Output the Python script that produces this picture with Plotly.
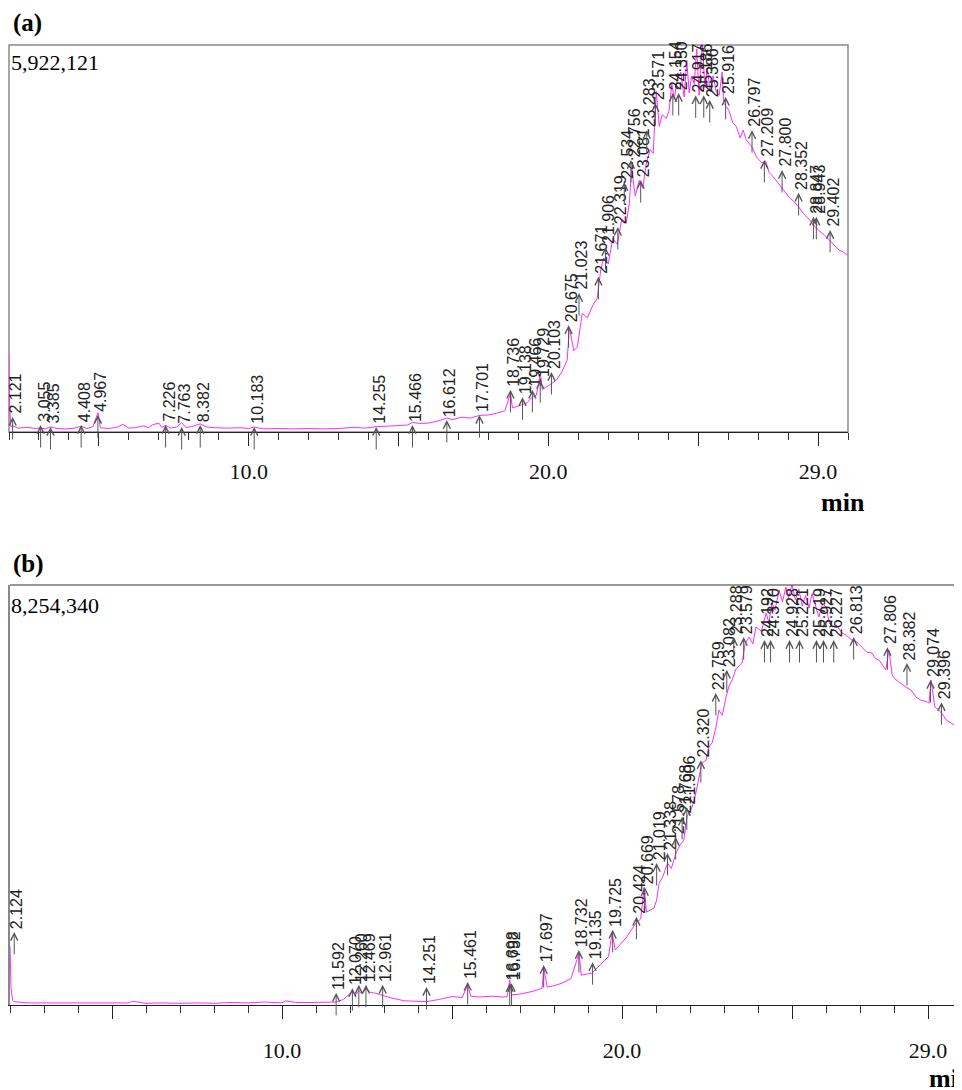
import plotly.graph_objects as go

# ---------------- data ----------------
# Panel (a): retention time (min) and intensity (% of full scale 5,922,121)
time_a = [2.00, 2.02, 2.06, 2.12, 2.3, 2.6, 2.9, 3.05, 3.2, 3.38,
          3.6, 3.9, 4.2, 4.41, 4.6, 4.8, 4.97, 5.05, 5.3, 5.6,
          5.8, 6.0, 6.2, 6.5, 6.65, 6.8, 7.0, 7.1, 7.23, 7.4,
          7.6, 7.76, 7.9, 8.1, 8.38, 8.6, 8.9, 9.3, 9.7, 10.0,
          10.18, 10.5, 11.0, 11.5, 12.0, 12.5, 13.0, 13.5, 13.9, 14.26,
          14.6, 15.0, 15.3, 15.47, 15.7, 16.0, 16.3, 16.61, 16.8, 17.1,
          17.4, 17.7, 18.0, 18.3, 18.55, 18.74, 18.8, 19.1, 19.3, 19.43,
          19.6, 19.73, 19.8, 20.03, 20.27, 20.45, 20.63, 20.7, 20.85, 20.97,
          21.13, 21.3, 21.5, 21.63, 21.75, 21.85, 22.0, 22.15, 22.3, 22.45,
          22.6, 22.7, 22.78, 22.9, 23.03, 23.15, 23.27, 23.4, 23.5, 23.6,
          23.7, 23.8, 23.93, 24.03, 24.12, 24.2, 24.3, 24.42, 24.53, 24.62,
          24.7, 24.78, 24.87, 24.95, 25.03, 25.1, 25.15, 25.22, 25.3, 25.4,
          25.5, 25.6, 25.7, 25.8, 25.85, 25.95, 26.03, 26.15, 26.27, 26.4,
          26.5, 26.6, 26.8, 26.95, 27.13, 27.25, 27.37, 27.5, 27.7, 27.85,
          28.03, 28.2, 28.37, 28.5, 28.7, 28.85, 29.03, 29.2, 29.37, 29.5,
          29.7, 29.85, 29.97]
intensity_a = [20, 7, 1.4, 1.6, 1.0, 1.2, 0.9, 1.1, 0.8, 1.3,
               0.9, 0.8, 1.0, 1.5, 0.9, 1.4, 5.0, 1.1, 0.9, 1.2,
               2.0, 1.0, 1.1, 1.6, 1.1, 1.9, 2.3, 1.2, 1.7, 1.0,
               1.3, 2.4, 1.2, 1.4, 2.1, 1.3, 1.1, 1.0, 1.1, 0.9,
               1.3, 0.8, 0.9, 0.8, 0.9, 0.8, 0.9, 1.2, 1.0, 1.4,
               1.5, 1.6, 1.8, 2.5, 2.2, 2.3, 2.8, 3.6, 3.2, 3.8,
               3.6, 4.3, 4.4, 4.9, 5.5, 10.0, 6.2, 7.0, 7.6, 8.8,
               9.5, 15.0, 11.0, 12.1, 13.4, 15.5, 18.6, 27.0, 21.0, 22.0,
               30.7, 29.5, 33.0, 34.5, 42, 45, 43.5, 50, 48.5, 55,
               54, 59, 68, 61, 65, 63, 69.5, 73, 72, 88,
               79, 82, 81, 83, 90, 86, 91, 93, 86.6, 96,
               87.6, 92, 90, 99, 87, 97, 100, 89, 94, 88,
               92, 88, 87, 93, 85, 84, 83, 80, 79, 76,
               78, 75.5, 73.6, 71, 69.5, 70, 67, 66, 64, 62.5,
               60.7, 59.5, 58, 56.5, 55, 53.5, 52, 51, 49.6, 48.5,
               47, 46.5, 45.7]

# Panel (b): retention time (min) and intensity (% of full scale 8,254,340)
time_b = [2.00, 2.03, 2.08, 2.12, 2.5, 3.0, 3.5, 4.0, 4.5, 5.0,
          5.5, 5.6, 6.0, 6.5, 7.0, 7.5, 8.0, 8.5, 9.0, 9.5,
          10.0, 10.1, 10.4, 10.8, 11.2, 11.59, 11.8, 12.0, 12.07, 12.15,
          12.26, 12.35, 12.47, 12.6, 12.75, 12.96, 13.2, 13.6, 14.0, 14.25,
          14.6, 15.0, 15.3, 15.46, 15.55, 15.79, 16.2, 16.5, 16.62, 16.7,
          16.75, 17.0, 17.4, 17.65, 17.7, 17.8, 18.0, 18.24, 18.5, 18.74,
          18.8, 19.12, 19.41, 19.6, 19.71, 19.8, 20.12, 20.3, 20.41, 20.55,
          20.65, 20.72, 20.94, 21.02, 21.09, 21.2, 21.34, 21.45, 21.59, 21.7,
          21.82, 21.91, 22.06, 22.16, 22.26, 22.35, 22.47, 22.56, 22.65, 22.76,
          22.85, 22.95, 23.06, 23.15, 23.24, 23.35, 23.53, 23.62, 23.74, 23.85,
          23.94, 24.1, 24.24, 24.32, 24.41, 24.5, 24.62, 24.72, 24.82, 24.9,
          25.0, 25.1, 25.2, 25.3, 25.4, 25.5, 25.59, 25.7, 25.79, 25.9,
          26.0, 26.1, 26.18, 26.3, 26.47, 26.6, 26.76, 26.9, 27.06, 27.2,
          27.35, 27.45, 27.56, 27.65, 27.76, 27.85, 27.95, 28.06, 28.2, 28.35,
          28.5, 28.65, 28.8, 28.95, 29.03, 29.09, 29.2, 29.32, 29.45, 29.53,
          29.7, 29.8, 29.91, 30.0]
intensity_b = [14, 4, 1.0, 0.8, 0.5, 0.5, 0.4, 0.5, 0.4, 0.5,
               0.5, 0.9, 0.4, 0.5, 0.4, 0.5, 0.4, 0.6, 0.5, 0.7,
               0.5, 1.0, 0.6, 0.6, 0.7, 0.7, 1.3, 2.6, 3.2, 2.3,
               3.4, 2.7, 3.9, 3.0, 2.8, 2.3, 1.7, 1.0, 0.8, 0.8,
               1.3, 2.0, 1.8, 4.8, 2.1, 1.9, 2.1, 1.9, 2.0, 6.0,
               2.4, 2.6, 3.3, 4.0, 8.8, 4.3, 4.6, 5.2, 6.3, 12.4,
               7.1, 7.6, 10.0, 11.5, 17.1, 13.1, 16.0, 18.0, 19.5, 20.5,
               28.0, 22.1, 23.1, 25.0, 29.0, 30.5, 33.8, 32.5, 36.2, 38.0,
               39.3, 44.8, 47.1, 50, 53.6, 57.6, 58.3, 61.5, 62.4, 66,
               70.2, 69, 73.3, 76, 77.4, 80, 81.4, 86, 87.6, 86,
               90, 89, 93.3, 91, 95.7, 94, 98.8, 96, 99.5, 97,
               100, 96.5, 99, 95, 97.5, 94.5, 98, 95, 92.4, 95.5,
               94.8, 91, 90, 90.5, 88.6, 88, 86.9, 86.5, 85.2, 84,
               83.8, 82.5, 82.1, 81, 79.8, 84.5, 78.5, 77.4, 76.5, 75.7,
               75, 73.3, 72.5, 72.3, 71.9, 77.4, 71, 70.2, 69, 67.9,
               67, 66.5, 65.5, 65]

# Labelled peaks: retention time and apex height (% of full scale)
peaks_a_rt = [2.121, 3.055, 3.385, 4.408, 4.967, 7.226, 7.763, 8.382, 10.183, 14.255,
              15.466, 16.612, 17.701, 18.736, 19.138, 19.466, 19.729, 20.103, 20.675, 21.023,
              21.671, 21.906, 22.319, 22.534, 22.756, 23.081, 23.283, 23.571, 24.154, 24.350,
              24.917, 25.186, 25.386, 25.916, 26.797, 27.209, 27.800, 28.352, 28.847, 28.943,
              29.402]
peaks_a_height = [3.9, 1.8, 1.3, 1.8, 4.4, 1.8, 1.3, 1.8, 1.3, 1.3,
                  1.8, 3.1, 4.4, 10.9, 9.0, 10.9, 13.4, 15.5, 27.6, 35.9,
                  40.1, 47.8, 53.0, 64.6, 70.3, 65.1, 78.0, 85.0, 87.6, 87.6,
                  87.0, 87.0, 85.8, 86.6, 78.0, 70.3, 67.7, 61.8, 55.6, 55.6,
                  52.2]
peaks_b_rt = [2.124, 11.592, 12.070, 12.260, 12.469, 12.961, 14.251, 15.461, 16.698, 16.752,
              17.697, 18.732, 19.135, 19.725, 20.424, 20.669, 21.019, 21.338, 21.578, 21.768,
              21.906, 22.320, 22.759, 23.082, 23.288, 23.579, 24.192, 24.370, 24.928, 25.221,
              25.719, 25.927, 26.227, 26.813, 27.806, 28.382, 29.074, 29.396]
peaks_b_height = [17.4, 2.9, 4.0, 4.8, 4.8, 4.8, 4.3, 5.5, 5.2, 5.2,
                  9.5, 13.1, 10.2, 17.9, 21.0, 28.1, 33.8, 36.2, 40.0, 44.8,
                  47.1, 58.3, 74.3, 79.8, 87.6, 87.6, 86.9, 86.9, 86.9, 86.9,
                  86.9, 86.9, 86.9, 87.6, 85.2, 81.4, 77.4, 72.1]

tick_vals = [5, 10, 15, 20, 25, 29]
tick_text = ["", "10.0", "", "20.0", "", "29.0"]
full_scale_a = "5,922,121"
full_scale_b = "8,254,340"

assert len(time_a) == len(intensity_a)
assert len(time_b) == len(intensity_b)
assert len(peaks_a_rt) == len(peaks_a_height)
assert len(peaks_b_rt) == len(peaks_b_height)

# ---------------- figure ----------------
# the page body has an 8 px margin, so the figure is 8 px smaller and
# reference-pixel positions are shifted by 8 px
OFF = 8
W, H = 962 - OFF, 1090 - OFF
def px(x, y):
    return (x - OFF) / W, 1 - (y - OFF) / H

LINE = "#ff2bff"
fig = go.Figure()
fig.add_trace(go.Scatter(x=time_a, y=intensity_a, mode="lines",
                         line=dict(color=LINE, width=1), xaxis="x", yaxis="y",
                         hoverinfo="skip"))
fig.add_trace(go.Scatter(x=time_b, y=intensity_b, mode="lines",
                         line=dict(color=LINE, width=1), xaxis="x2", yaxis="y2",
                         hoverinfo="skip"))

def xaxis(domain, anchor, standoff):
    return dict(domain=domain, anchor=anchor, range=[2, 30], showgrid=False,
                zeroline=False, showline=True, linecolor="#222", linewidth=1.2,
                ticks="outside", tickvals=tick_vals, ticktext=tick_text,
                ticklen=13, tickwidth=1.2, tickcolor="#222",
                tickfont=dict(family="Liberation Serif", size=22, color="#111"),
                ticklabelstandoff=standoff,
                minor=dict(tickmode="linear", tick0=0, dtick=1, ticks="outside",
                           ticklen=7, tickwidth=1, tickcolor="#333"))

def yaxis(domain, anchor, line):
    return dict(domain=domain, anchor=anchor, range=[0, 100], showgrid=False,
                zeroline=False, showticklabels=False, ticks="",
                showline=line, linecolor="#888", linewidth=1.5)

xa0, ya1 = px(9, 432)
xa1, ya2 = px(848, 45)
xb0, yb1 = px(10, 1005)
_, yb2 = px(10, 585)

annotations = []
shapes = []

def add_peaks(rts, heights, xr, yr):
    for rt, h in zip(rts, heights):
        annotations.append(dict(x=rt, y=h, xref=xr, yref=yr, text="",
                                showarrow=True, ax=0, ay=24, arrowhead=5,
                                arrowsize=1.4, arrowwidth=1, arrowcolor="#555"))
        annotations.append(dict(x=rt, y=h, xref=xr, yref=yr, text=f"{rt:.3f}",
                                showarrow=False, textangle=-90, xanchor="center",
                                yanchor="bottom", yshift=1, xshift=3,
                                font=dict(family="Liberation Sans", size=16,
                                          color="#222")))

add_peaks(peaks_a_rt, peaks_a_height, "x", "y")
add_peaks(peaks_b_rt, peaks_b_height, "x2", "y2")

def text(x, y, s, size, bold=False, xanchor="left", yanchor="middle"):
    xx, yy = px(x, y)
    annotations.append(dict(x=xx, y=yy, xref="paper", yref="paper",
                            text=f"<b>{s}</b>" if bold else s, showarrow=False,
                            xanchor=xanchor, yanchor=yanchor,
                            font=dict(family="Liberation Serif", size=size,
                                      color="#000")))

text(11, 23, "(a)", 25, bold=True)
text(11, 564, "(b)", 25, bold=True)
text(9, 63, full_scale_a, 22)
text(9, 605, full_scale_b, 22)
text(843, 502, "min", 26, bold=True, xanchor="center")
text(927, 1078, "min", 26, bold=True)

# frame of panel (a) and top line of panel (b)
shapes.append(dict(type="rect", xref="x domain", yref="y domain", x0=0, x1=1,
                   y0=0, y1=1, line=dict(color="#8a8a8a", width=1.5),
                   layer="below"))
shapes.append(dict(type="line", xref="x2 domain", yref="y2 domain", x0=0, x1=1,
                   y0=1, y1=1, line=dict(color="#333", width=1.2)))

fig.update_layout(
    width=W, height=H, margin=dict(l=0, r=0, t=0, b=0),
    paper_bgcolor="white", plot_bgcolor="white", showlegend=False,
    xaxis=xaxis([xa0, xa1], "y", 6),
    yaxis=yaxis([ya1, ya2], "x", False),
    xaxis2=xaxis([xb0, 1.0], "y2", 12),
    yaxis2=yaxis([yb1, yb2], "x2", True),
    annotations=annotations, shapes=shapes,
)

fig.write_html("out.html")
